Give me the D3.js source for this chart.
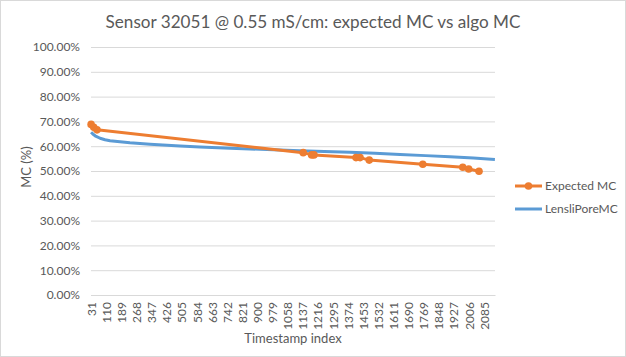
<!DOCTYPE html>
<html><head><meta charset="utf-8">
<script src="https://cdn.jsdelivr.net/npm/d3@7"></script>
<style>
html,body{margin:0;padding:0;background:#fff;}
svg{display:block;font-family:Lato,"Open Sans",sans-serif;}
</style></head>
<body>
<svg id="c" width="626" height="357"></svg>
<script>
// ---- data ----
const title = "Sensor 32051 @ 0.55 mS/cm: expected MC vs algo MC";
const xTitle = "Timestamp index";
const yTitle = "MC (%)";
const seriesNames = ["Expected MC", "LensliPoreMC"];
const indexRange = [31, 2142];
const xTickLabels = [31,110,189,268,347,426,505,584,663,742,821,900,979,1058,1137,1216,1295,1374,1453,1532,1611,1690,1769,1848,1927,2006,2085];
const yTicks = [0,0.1,0.2,0.3,0.4,0.5,0.6,0.7,0.8,0.9,1.0];
const expectedIdx = [31, 45, 62, 1140, 1184, 1196, 1416, 1437, 1485, 1765, 1974, 2005, 2059];
const expectedMC  = [0.688, 0.676, 0.666, 0.574, 0.565, 0.565, 0.554, 0.554, 0.544, 0.527, 0.515, 0.508, 0.499];
const algoIdx = [31, 40, 52, 78, 104, 130, 182, 234, 339, 496, 600, 757, 862, 1019, 1123, 1250, 1385, 1515, 1646, 1780, 1907, 2030, 2142];
const algoMC  = [0.656, 0.649, 0.642, 0.632, 0.626, 0.622, 0.618, 0.614, 0.608, 0.601, 0.597, 0.592, 0.589, 0.585, 0.582, 0.579, 0.576, 0.572, 0.567, 0.562, 0.557, 0.552, 0.546];
const colors = ["#ED7D31", "#5B9BD5"];

// ---- layout ----
const svg = d3.select("#c");
const plot = {left: 91, right: 495, top: 47, bottom: 295};
const textColor = "#595959";
const gridColor = "#D9D9D9";

svg.append("rect").attr("x",0.5).attr("y",0.5).attr("width",625).attr("height",356)
  .attr("fill","#fff").attr("stroke","#D9D9D9");

const x = d3.scaleLinear().domain([indexRange[0]-0.5, indexRange[1]+0.5]).range([plot.left, plot.right]);
const y = d3.scaleLinear().domain([0,1]).range([plot.bottom, plot.top]);

function fit(sel, target){
  const w = sel.node().getComputedTextLength();
  const fs = parseFloat(sel.attr("font-size"));
  sel.attr("font-size", (fs*target/w).toFixed(2));
}

// gridlines
const yAxis = d3.axisLeft(y).tickValues(yTicks).tickFormat(d3.format(".2%")).tickSize(-(plot.right-plot.left)).tickPadding(11);
const gy = svg.append("g").attr("transform",`translate(${plot.left},0)`).call(yAxis);
gy.select(".domain").remove();
gy.selectAll(".tick line").attr("stroke",gridColor).attr("stroke-width",1);
gy.selectAll(".tick text").attr("fill",textColor).attr("font-size",12).attr("font-family","Lato");

// x axis
const xAxis = d3.axisBottom(x).tickValues(xTickLabels).tickSize(0).tickFormat(d=>d);
const gx = svg.append("g").attr("transform",`translate(0,${plot.bottom})`).call(xAxis);
gx.select(".domain").attr("stroke",gridColor).attr("stroke-width",1);
gx.selectAll(".tick text").attr("fill",textColor).attr("font-size",12).attr("font-family","Lato")
  .attr("transform","rotate(-90)").attr("text-anchor","end").attr("x",-7).attr("y",0).attr("dy","0.35em");

// titles
const t = svg.append("text").attr("x",313).attr("y",28).attr("text-anchor","middle")
  .attr("fill",textColor).attr("font-size",19).text(title);
fit(t, 415);
svg.append("text").attr("x",(plot.left+plot.right)/2).attr("y",343).attr("text-anchor","middle")
  .attr("fill",textColor).attr("font-size",13).text(xTitle);
svg.append("text").attr("transform",`translate(31,${(plot.top+plot.bottom)/2 - 4}) rotate(-90)`)
  .attr("text-anchor","middle").attr("fill",textColor).attr("font-size",13).text(yTitle);

// lines
const algoData = algoIdx.map((d,i)=>[d, algoMC[i]]);
const expData = expectedIdx.map((d,i)=>[d, expectedMC[i]]);
const line = d3.line().x(d=>x(d[0])).y(d=>y(d[1]));
svg.append("path").datum(algoData).attr("d",line).attr("fill","none")
  .attr("stroke",colors[1]).attr("stroke-width",3).attr("stroke-linejoin","round");
svg.append("path").datum(expData).attr("d",line).attr("fill","none")
  .attr("stroke",colors[0]).attr("stroke-width",3).attr("stroke-linejoin","round");
svg.selectAll(".mk").data(expData).enter().append("circle")
  .attr("cx",d=>x(d[0])).attr("cy",d=>y(d[1])).attr("r",3.8).attr("fill",colors[0]);

// legend
const lg = svg.append("g");
[0,1].forEach(i=>{
  const ly = 186 + i*23;
  lg.append("line").attr("x1",515).attr("x2",542).attr("y1",ly).attr("y2",ly)
    .attr("stroke",colors[i]).attr("stroke-width",3);
  if(i===0) lg.append("circle").attr("cx",528.5).attr("cy",ly).attr("r",3.8).attr("fill",colors[0]);
  lg.append("text").attr("x",545).attr("y",ly).attr("dy","0.35em").attr("fill",textColor)
    .attr("font-size",12).text(seriesNames[i]);
});
</script>
</body></html>
